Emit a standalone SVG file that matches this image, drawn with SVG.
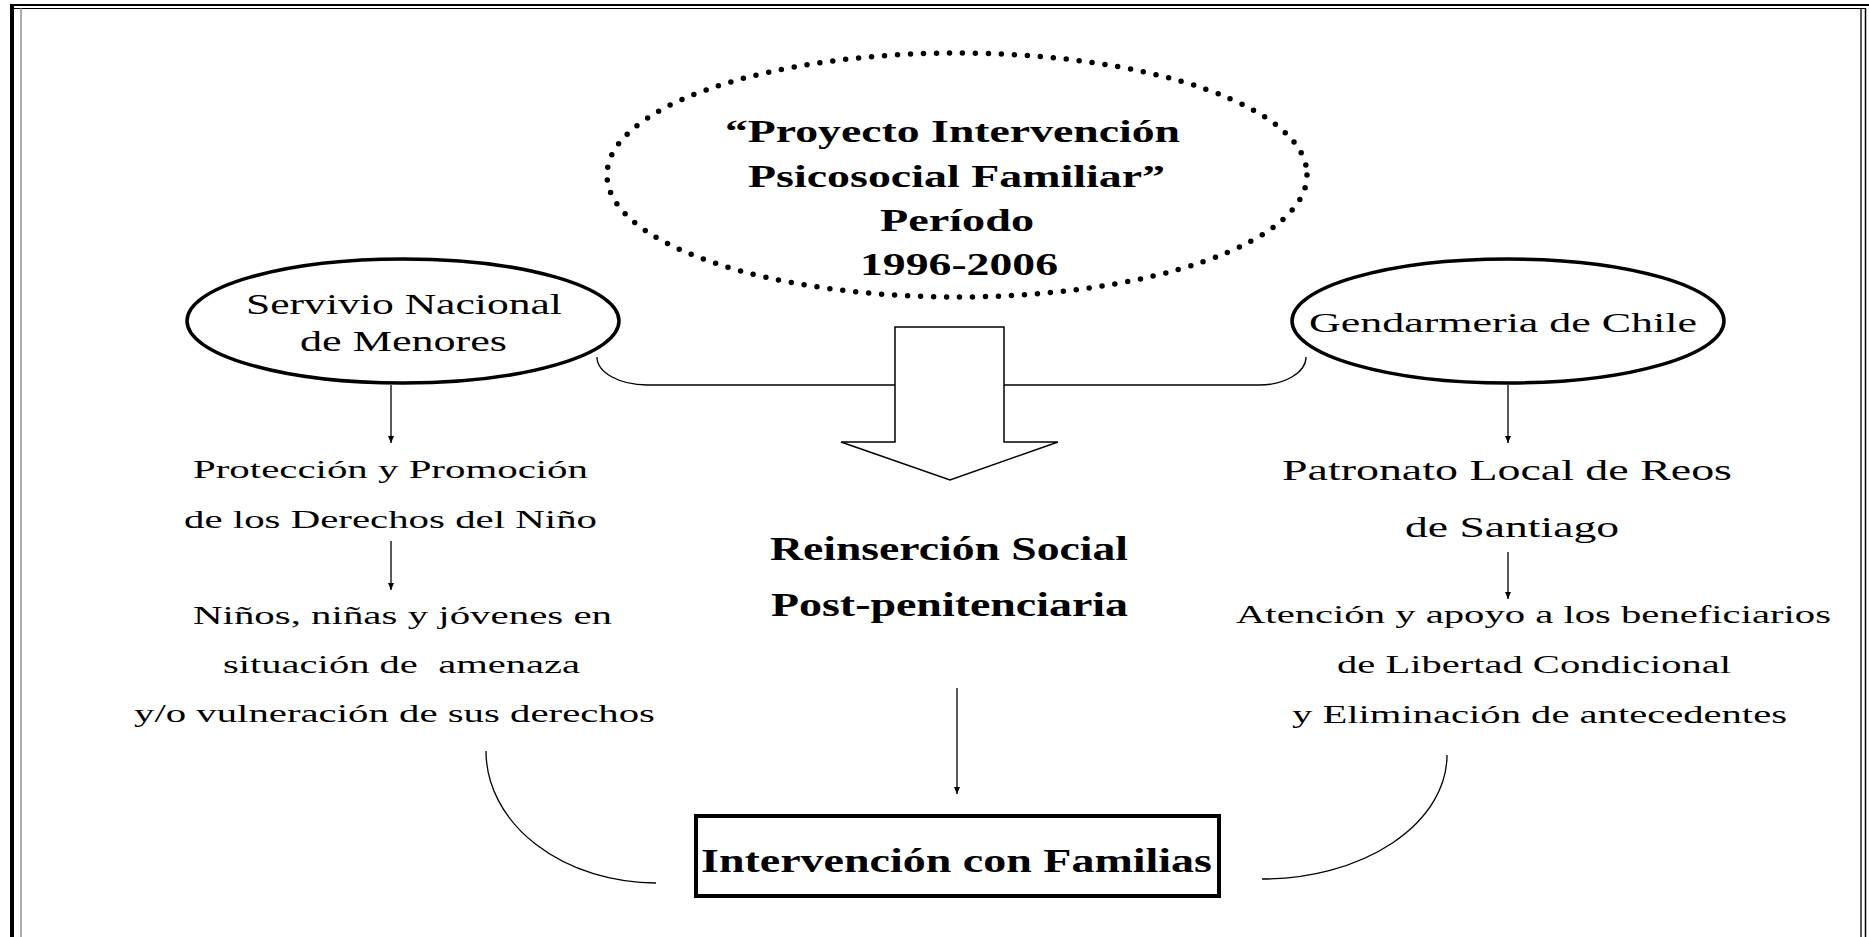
<svg xmlns="http://www.w3.org/2000/svg" width="1869" height="937" viewBox="0 0 1869 937">
<style>
.frame{stroke:#000;fill:none}
.t{font-family:"Liberation Serif","Times New Roman",serif;fill:#000}
.b{font-weight:bold}
.conn{stroke:#000;stroke-width:1.3;fill:none}
.oval{fill:#fff;stroke:#000;stroke-width:3.5}
</style>
<defs>
<marker id="ah" markerUnits="userSpaceOnUse" markerWidth="8" markerHeight="7" refX="7" refY="3" orient="auto">
<path d="M0,0 L7,3 L0,6 z" fill="#000"/>
</marker>
</defs>
<rect width="1869" height="937" fill="#fff"/>
<g id="frame">
<rect x="10" y="4" width="4" height="933" fill="#000"/>
<rect x="10" y="4" width="1859" height="2" fill="#000"/>
<line x1="14" y1="8.5" x2="1866" y2="8.5" stroke="#000" stroke-width="1"/>
<line x1="21" y1="8" x2="21" y2="937" stroke="#777" stroke-width="1.2"/>
<line x1="1861" y1="8" x2="1861" y2="937" stroke="#000" stroke-width="1.3"/>
<line x1="1865.5" y1="8" x2="1865.5" y2="937" stroke="#000" stroke-width="1.5"/>
</g>
<g id="connectors">
<path class="conn" d="M597,357 A50,28 0 0 0 647,385 L1259,385 A47,28 0 0 0 1306,357"/>
<line class="conn" x1="391" y1="385" x2="391" y2="443" marker-end="url(#ah)"/>
<line class="conn" x1="391" y1="541" x2="391" y2="590" marker-end="url(#ah)"/>
<line class="conn" x1="1508" y1="385" x2="1508" y2="443" marker-end="url(#ah)"/>
<line class="conn" x1="1508" y1="552" x2="1508" y2="599" marker-end="url(#ah)"/>
<line class="conn" x1="957" y1="688" x2="957" y2="794" marker-end="url(#ah)"/>
<path class="conn" d="M486,751 A170,132 0 0 0 656,883"/>
<path class="conn" d="M1447,755 A185,124 0 0 1 1262,879"/>
</g>
<g id="block-arrow">
<polygon points="895,327 1004,327 1004,442 1058,442 950,480 841,442 895,442" fill="#fff" stroke="#000" stroke-width="1.5"/>
</g>
<g id="proyecto">
<ellipse cx="957" cy="175" rx="350" ry="122" fill="none" stroke="#000" stroke-width="5.5" stroke-dasharray="0 13" stroke-linecap="round"/>
<text class="t b" x="725" y="142" font-size="32" textLength="455" lengthAdjust="spacingAndGlyphs">“Proyecto Intervención</text>
<text class="t b" x="748" y="187" font-size="32" textLength="417" lengthAdjust="spacingAndGlyphs">Psicosocial Familiar”</text>
<text class="t b" x="880" y="231" font-size="32" textLength="154" lengthAdjust="spacingAndGlyphs">Período</text>
<text class="t b" x="860" y="275" font-size="32" textLength="198" lengthAdjust="spacingAndGlyphs">1996-2006</text>
</g>
<g id="sename">
<ellipse class="oval" cx="403" cy="321" rx="216" ry="62"/>
<text class="t" x="246" y="314" font-size="29" textLength="316" lengthAdjust="spacingAndGlyphs">Servivio Nacional</text>
<text class="t" x="300" y="351" font-size="29" textLength="207" lengthAdjust="spacingAndGlyphs">de Menores</text>
</g>
<g id="gendarmeria">
<ellipse class="oval" cx="1508" cy="321" rx="216" ry="62"/>
<text class="t" x="1309" y="332" font-size="28" textLength="388" lengthAdjust="spacingAndGlyphs">Gendarmeria de Chile</text>
</g>
<g id="proteccion">
<text class="t" x="193" y="478" font-size="26" textLength="395" lengthAdjust="spacingAndGlyphs">Protección y Promoción</text>
<text class="t" x="184" y="528" font-size="26" textLength="413" lengthAdjust="spacingAndGlyphs">de los Derechos del Niño</text>
</g>
<g id="ninos">
<text class="t" x="193" y="624" font-size="26" textLength="419" lengthAdjust="spacingAndGlyphs">Niños, niñas y jóvenes en</text>
<text class="t" x="223" y="673" font-size="26" textLength="357" lengthAdjust="spacingAndGlyphs" xml:space="preserve">situación de  amenaza</text>
<text class="t" x="134" y="722" font-size="26" textLength="521" lengthAdjust="spacingAndGlyphs">y/o vulneración de sus derechos</text>
</g>
<g id="patronato">
<text class="t" x="1282" y="480" font-size="30" textLength="450" lengthAdjust="spacingAndGlyphs">Patronato Local de Reos</text>
<text class="t" x="1405" y="537" font-size="30" textLength="214" lengthAdjust="spacingAndGlyphs">de Santiago</text>
</g>
<g id="atencion">
<text class="t" x="1236" y="623" font-size="26" textLength="595" lengthAdjust="spacingAndGlyphs">Atención y apoyo a los beneficiarios</text>
<text class="t" x="1337" y="673" font-size="26" textLength="394" lengthAdjust="spacingAndGlyphs">de Libertad Condicional</text>
<text class="t" x="1292" y="723" font-size="26" textLength="495" lengthAdjust="spacingAndGlyphs">y Eliminación de antecedentes</text>
</g>
<g id="reinsercion">
<text class="t b" x="770" y="560" font-size="33" textLength="358" lengthAdjust="spacingAndGlyphs">Reinserción Social</text>
<text class="t b" x="771" y="616" font-size="33" textLength="357" lengthAdjust="spacingAndGlyphs">Post-penitenciaria</text>
</g>
<g id="familias">
<rect x="696" y="816" width="523" height="80" fill="#fff" stroke="#000" stroke-width="4"/>
<text class="t b" x="701" y="872" font-size="33" textLength="511" lengthAdjust="spacingAndGlyphs">Intervención con Familias</text>
</g>
</svg>
